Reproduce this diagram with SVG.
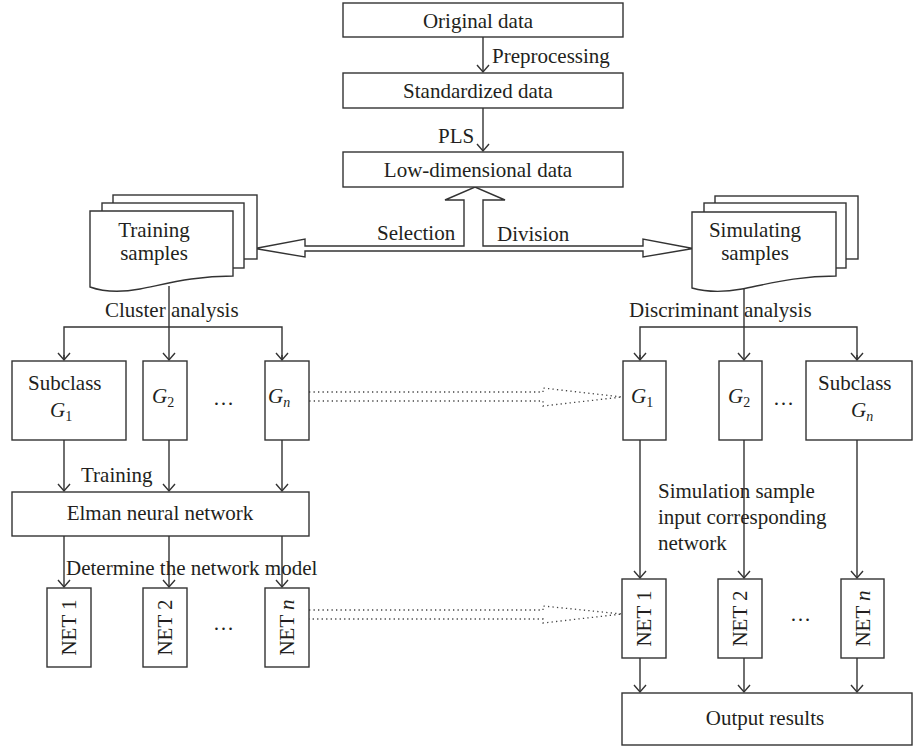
<svg xmlns="http://www.w3.org/2000/svg" width="914" height="748" viewBox="0 0 914 748">
<style>
text{font-family:"Liberation Serif","Times New Roman",serif;font-size:21px;fill:#231f20}
.b{fill:#fff;stroke:#333;stroke-width:1.4}
.l{fill:none;stroke:#333;stroke-width:1.4}
.d{fill:none;stroke:#444;stroke-width:1.3;stroke-dasharray:1.3 3.2}
.m{text-anchor:middle}
.i{font-style:italic}
.s{font-size:14px}
</style>
<defs>
<marker id="a" markerUnits="userSpaceOnUse" markerWidth="20" markerHeight="20" refX="0" refY="0" orient="auto" overflow="visible">
<path d="M-7,-6 L0,0 L-7,6" fill="none" stroke="#333" stroke-width="1.4"/>
</marker>
</defs>
<rect width="914" height="748" fill="#fff"/>

<g id="connectors">
<line class="l" x1="483" y1="37" x2="483" y2="72" marker-end="url(#a)"/>
<line class="l" x1="483" y1="108" x2="483" y2="151" marker-end="url(#a)"/>
<path class="b" d="M255,248.5 L305,239 L305,246 L464,246 L464,200 L445,200 L475,187 L505,200 L483,200 L483,246 L643,246 L643,239 L693,248.5 L643,257 L643,251 L305,251 L305,257 Z"/>
<line class="l" x1="169" y1="286" x2="169" y2="360" marker-end="url(#a)"/>
<polyline class="l" points="64,360 64,327 282,327 282,360"/>
<line class="l" x1="64" y1="355" x2="64" y2="360" marker-end="url(#a)"/>
<line class="l" x1="282" y1="355" x2="282" y2="360" marker-end="url(#a)"/>
<line class="l" x1="744" y1="289" x2="744" y2="360" marker-end="url(#a)"/>
<polyline class="l" points="640,360 640,327 857,327 857,360"/>
<line class="l" x1="640" y1="355" x2="640" y2="360" marker-end="url(#a)"/>
<line class="l" x1="857" y1="355" x2="857" y2="360" marker-end="url(#a)"/>
<line class="l" x1="64" y1="440" x2="64" y2="491" marker-end="url(#a)"/>
<line class="l" x1="169" y1="440" x2="169" y2="491" marker-end="url(#a)"/>
<line class="l" x1="282" y1="440" x2="282" y2="491" marker-end="url(#a)"/>
<line class="l" x1="64" y1="536" x2="64" y2="587" marker-end="url(#a)"/>
<line class="l" x1="169" y1="536" x2="169" y2="587" marker-end="url(#a)"/>
<line class="l" x1="282" y1="536" x2="282" y2="587" marker-end="url(#a)"/>
<line class="l" x1="640" y1="440" x2="640" y2="578" marker-end="url(#a)"/>
<line class="l" x1="744" y1="440" x2="744" y2="578" marker-end="url(#a)"/>
<line class="l" x1="857" y1="440" x2="857" y2="578" marker-end="url(#a)"/>
<line class="l" x1="640" y1="658" x2="640" y2="692" marker-end="url(#a)"/>
<line class="l" x1="744" y1="658" x2="744" y2="692" marker-end="url(#a)"/>
<line class="l" x1="857" y1="658" x2="857" y2="692" marker-end="url(#a)"/>
<polyline class="d" points="309,392 543,392 543,388 622,397 543,406 543,401 309,401"/>
<polyline class="d" points="309,610 543,610 543,606 622,614 543,623 543,619 309,619"/>
<text x="492" y="63">Preprocessing</text>
<text x="438" y="143">PLS</text>
<text x="377" y="240">Selection</text>
<text x="497" y="241">Division</text>
<text x="105" y="317">Cluster analysis</text>
<text x="629" y="317">Discriminant analysis</text>
<text x="81" y="482">Training</text>
<text x="66" y="575">Determine the network model</text>
<text x="658" y="498">Simulation sample</text>
<text x="658" y="524">input corresponding</text>
<text x="658" y="550">network</text>
</g>

<g id="original"><rect class="b" x="343" y="3" width="280" height="34"/><text class="m" x="478" y="28">Original data</text></g>
<g id="standardized"><rect class="b" x="343" y="73" width="280" height="35"/><text class="m" x="478" y="98">Standardized data</text></g>
<g id="lowdim"><rect class="b" x="343" y="152" width="280" height="35"/><text class="m" x="478" y="177">Low-dimensional data</text></g>

<g id="training">
<rect class="b" x="113" y="195" width="144" height="64"/>
<rect class="b" x="102" y="203" width="142" height="65"/>
<path class="b" d="M90,211 H233 V276 C195,276 170,283 140,289 C118,293 104,292 90,287 Z"/>
<text class="m" x="154" y="237">Training</text>
<text class="m" x="154" y="260">samples</text>
</g>
<g id="simulating">
<rect class="b" x="715" y="196" width="143" height="63"/>
<rect class="b" x="704" y="203" width="142" height="65"/>
<path class="b" d="M692,212 H836 V276 C798,276 772,283 742,289 C720,293 706,292 692,288 Z"/>
<text class="m" x="755" y="237">Simulating</text>
<text class="m" x="755" y="260">samples</text>
</g>

<g id="lg1"><rect class="b" x="12" y="361" width="114" height="79"/><text x="28" y="390">Subclass</text><text x="50" y="417"><tspan class="i">G</tspan><tspan class="s" dy="4">1</tspan></text></g>
<g id="lg2"><rect class="b" x="143" y="361" width="44" height="79"/><text x="152" y="403"><tspan class="i">G</tspan><tspan class="s" dy="4">2</tspan></text></g>
<text x="213" y="405">…</text>
<g id="lgn"><rect class="b" x="265" y="361" width="44" height="79"/><text x="268" y="403"><tspan class="i">G</tspan><tspan class="s i" dy="4">n</tspan></text></g>

<g id="rg1"><rect class="b" x="623" y="361" width="43" height="79"/><text x="631" y="403"><tspan class="i">G</tspan><tspan class="s" dy="4">1</tspan></text></g>
<g id="rg2"><rect class="b" x="719" y="361" width="43" height="79"/><text x="728" y="403"><tspan class="i">G</tspan><tspan class="s" dy="4">2</tspan></text></g>
<text x="773" y="405">…</text>
<g id="rgn"><rect class="b" x="806" y="361" width="106" height="79"/><text x="818" y="390">Subclass</text><text x="851" y="417"><tspan class="i">G</tspan><tspan class="s i" dy="4">n</tspan></text></g>

<g id="elman"><rect class="b" x="12" y="492" width="297" height="44"/><text class="m" x="160" y="520">Elman neural network</text></g>

<g id="lnet1"><rect class="b" x="47" y="588" width="44" height="79"/><text class="m" transform="translate(69,627.5) rotate(-90)" y="7">NET 1</text></g>
<g id="lnet2"><rect class="b" x="143" y="588" width="44" height="79"/><text class="m" transform="translate(165,627.5) rotate(-90)" y="7">NET 2</text></g>
<text x="213" y="630">…</text>
<g id="lnetn"><rect class="b" x="265" y="588" width="44" height="79"/><text class="m" transform="translate(287,627.5) rotate(-90)" y="7">NET <tspan class="i">n</tspan></text></g>

<g id="rnet1"><rect class="b" x="622" y="579" width="44" height="79"/><text class="m" transform="translate(644,618.5) rotate(-90)" y="7">NET 1</text></g>
<g id="rnet2"><rect class="b" x="718" y="579" width="44" height="79"/><text class="m" transform="translate(740,618.5) rotate(-90)" y="7">NET 2</text></g>
<text x="790" y="621">…</text>
<g id="rnetn"><rect class="b" x="841" y="579" width="43" height="79"/><text class="m" transform="translate(862.5,618.5) rotate(-90)" y="7">NET <tspan class="i">n</tspan></text></g>

<g id="output"><rect class="b" x="622" y="693" width="290" height="52"/><text class="m" x="765" y="725">Output results</text></g>
</svg>
